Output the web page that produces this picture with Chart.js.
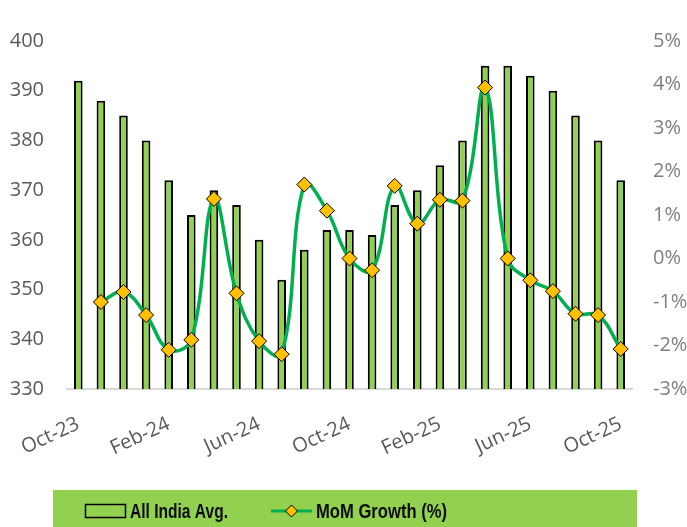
<!DOCTYPE html>
<html>
<head>
<meta charset="utf-8">
<script src="https://cdn.jsdelivr.net/npm/chart.js@4"></script>
<style>
html,body{margin:0;padding:0;background:#fff;}
canvas{display:block;}
</style>
</head>
<body>
<canvas id="c" width="687" height="527"></canvas>
<script>
const categories = ["Oct-23","Nov-23","Dec-23","Jan-24","Feb-24","Mar-24","Apr-24","May-24","Jun-24","Jul-24","Aug-24","Sep-24","Oct-24","Nov-24","Dec-24","Jan-25","Feb-25","Mar-25","Apr-25","May-25","Jun-25","Jul-25","Aug-25","Sep-25","Oct-25"];
const allIndiaAvg = [392,388,385,380,372,365,370,367,360,352,358,362,362,361,367,370,375,380,395,395,393,390,385,380,372];
const momGrowth = [null,-1.0,-0.77,-1.3,-2.1,-1.87,1.37,-0.8,-1.9,-2.2,1.7,1.1,0.0,-0.27,1.67,0.8,1.35,1.33,3.93,0.0,-0.5,-0.75,-1.27,-1.3,-2.08];
const leftTicks = [330,340,350,360,370,380,390,400];
const rightTicks = [-3,-2,-1,0,1,2,3,4,5];
const legendLabels = ["All India Avg.","MoM Growth (%)"];

const BAR_GREEN = '#92D050';
const LINE_GREEN = '#00B050';
const GOLD = '#FFC000';

function fitText(ctx, text, x, y, targetW) {
  const w = ctx.measureText(text).width;
  ctx.save();
  ctx.translate(x, y);
  ctx.scale(targetW / w, 1);
  ctx.fillText(text, 0, 0);
  ctx.restore();
}

const legendPlugin = {
  id: 'customLegend',
  afterDraw(chart) {
    const ctx = chart.ctx;
    ctx.save();
    ctx.fillStyle = BAR_GREEN;
    ctx.fillRect(53, 490, 584, 37);
    // bar symbol
    ctx.strokeStyle = '#000';
    ctx.lineWidth = 1.5;
    ctx.strokeRect(85.5, 504.5, 40, 13);
    ctx.font = "bold 21px 'Liberation Sans', sans-serif";
    ctx.fillStyle = '#0d0d0d';
    ctx.textBaseline = 'middle';
    ctx.textAlign = 'left';
    fitText(ctx, legendLabels[0], 130, 512, 98);
    // line symbol
    ctx.strokeStyle = LINE_GREEN;
    ctx.lineWidth = 3;
    ctx.beginPath();
    ctx.moveTo(271, 511);
    ctx.lineTo(312, 511);
    ctx.stroke();
    ctx.beginPath();
    const cx = 291.5, cy = 511, r = 6;
    ctx.moveTo(cx, cy - r);
    ctx.lineTo(cx + r, cy);
    ctx.lineTo(cx, cy + r);
    ctx.lineTo(cx - r, cy);
    ctx.closePath();
    ctx.fillStyle = GOLD;
    ctx.fill();
    ctx.strokeStyle = '#000';
    ctx.lineWidth = 1;
    ctx.stroke();
    ctx.fillStyle = '#0d0d0d';
    fitText(ctx, legendLabels[1], 316, 512, 131);
    ctx.restore();
  }
};

new Chart(document.getElementById('c'), {
  data: {
    labels: categories,
    datasets: [
      {
        type: 'line',
        label: legendLabels[1],
        data: momGrowth,
        yAxisID: 'y1',
        borderColor: LINE_GREEN,
        borderWidth: 3.5,
        tension: 0.4,
        pointStyle: 'rectRot',
        pointRadius: 7.5,
        pointBackgroundColor: GOLD,
        pointBorderColor: '#000',
        pointBorderWidth: 1,
        order: 0
      },
      {
        type: 'bar',
        label: legendLabels[0],
        data: allIndiaAvg,
        yAxisID: 'y',
        backgroundColor: BAR_GREEN,
        borderColor: '#000',
        borderWidth: 2,
        borderSkipped: 'bottom',
        categoryPercentage: 1.0,
        barPercentage: 0.38,
        order: 1
      }
    ]
  },
  options: {
    responsive: false,
    animation: false,
    devicePixelRatio: 1,
    layout: { padding: { top: 41, left: 0, right: 0, bottom: 37 } },
    plugins: { legend: { display: false }, tooltip: { enabled: false } },
    scales: {
      x: {
        grid: { display: false, drawTicks: false },
        border: { display: true, color: '#d9d9d9', width: 2 },
        afterFit(s) { s.height = 101; s.paddingLeft = 0; s.paddingRight = 0; },
        ticks: {
          autoSkip: false,
          maxRotation: 25,
          minRotation: 25,
          padding: 23,
          labelOffset: 0,
          color: '#595959',
          font: { family: "'Open Sans', sans-serif", size: 20 },
          callback(v, i) { return i % 4 === 0 ? categories[i] : null; }
        }
      },
      y: {
        position: 'left',
        min: 330, max: 400,
        grid: { display: false, drawTicks: false },
        border: { display: false },
        afterFit(s) { s.width = 67; },
        afterBuildTicks(s) { s.ticks = leftTicks.map(v => ({ value: v })); },
        ticks: {
          padding: 23,
          color: '#595959',
          font: { family: "'Open Sans', sans-serif", size: 20 }
        }
      },
      y1: {
        position: 'right',
        min: -3, max: 5,
        grid: { display: false, drawTicks: false },
        border: { display: false },
        afterFit(s) { s.width = 55; },
        afterBuildTicks(s) { s.ticks = rightTicks.map(v => ({ value: v })); },
        ticks: {
          padding: 21,
          color: '#7f7f7f',
          font: { family: "'Open Sans', sans-serif", size: 20 },
          callback(v) { return v + '%'; }
        }
      }
    }
  },
  plugins: [legendPlugin]
});
</script>
</body>
</html>
